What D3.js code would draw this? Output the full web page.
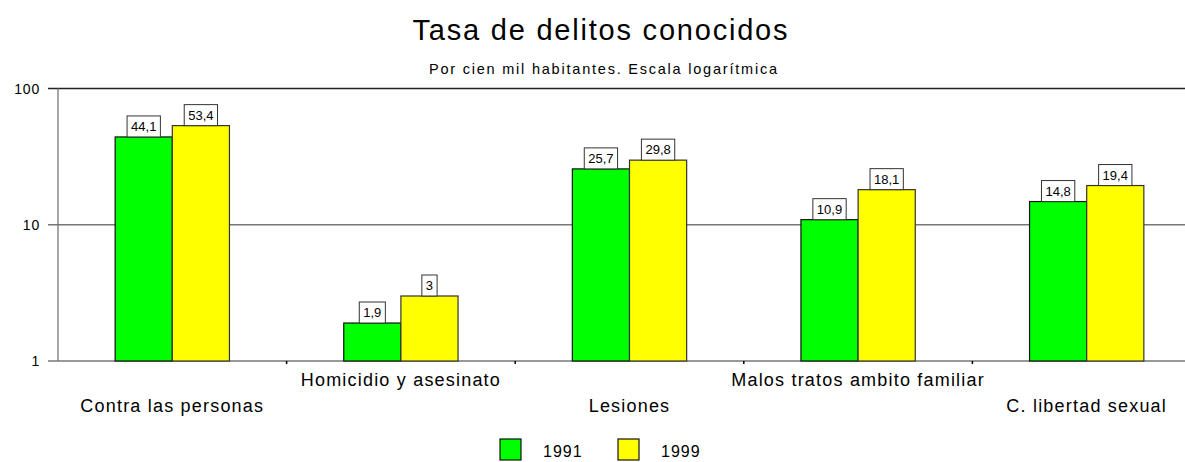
<!DOCTYPE html>
<html>
<head>
<meta charset="utf-8">
<script src="https://cdn.jsdelivr.net/npm/d3@7"></script>
<style>
  body { margin: 0; background: #fff; }
  svg { display: block; font-family: "Liberation Sans", Arial, sans-serif; }
</style>
</head>
<body>
<div id="vis"></div>
<script>
// data
const categories = ["Contra las personas", "Homicidio y asesinato", "Lesiones", "Malos tratos ambito familiar", "C. libertad sexual"];
const years = ["1991", "1999"];
const values1991 = [44.1, 1.9, 25.7, 10.9, 14.8];
const values1999 = [53.4, 3, 29.8, 18.1, 19.4];
const yTicks = [1, 10, 100];
const colors = ["#00ff00", "#ffff00"];

const width = 1185, height = 462;
const plotLeft = 58, bandRight = 1201, plotTop = 88.5, plotBottom = 361;

const svg = d3.select("#vis").append("svg")
  .attr("width", width)
  .attr("height", height);

const x = d3.scaleBand().domain(categories).range([plotLeft, bandRight]);
const xs = d3.scaleBand().domain(years).range([x.bandwidth() / 4, x.bandwidth() * 3 / 4]);
const y = d3.scaleLog().domain([1, 100]).range([plotBottom, plotTop]);

const rows = categories.map((c, i) => ({ cat: c, vals: [values1991[i], values1999[i]] }));

// title
svg.append("text")
  .attr("x", 600).attr("y", 40)
  .attr("text-anchor", "middle")
  .attr("font-size", 29)
  .attr("textLength", 375)
  .text("Tasa de delitos conocidos");

svg.append("text")
  .attr("x", 603).attr("y", 74)
  .attr("text-anchor", "middle")
  .attr("font-size", 14.5)
  .attr("textLength", 348)
  .text("Por cien mil habitantes. Escala logarítmica");

// gridlines
svg.selectAll(".grid")
  .data(yTicks)
  .enter().append("line")
  .attr("x1", plotLeft - 10).attr("x2", width)
  .attr("y1", d => y(d)).attr("y2", d => y(d))
  .attr("stroke", d => d === 100 ? "#222" : "#777")
  .attr("stroke-width", 1.3);

// y axis line
svg.append("line")
  .attr("x1", plotLeft).attr("x2", plotLeft)
  .attr("y1", plotTop).attr("y2", plotBottom)
  .attr("stroke", "#777")
  .attr("stroke-width", 1.3);

svg.selectAll(".ylab")
  .data(yTicks)
  .enter().append("text")
  .attr("x", 40).attr("y", d => y(d) + 5)
  .attr("text-anchor", "end")
  .attr("font-size", 14)
  .attr("letter-spacing", 0.8)
  .text(d => d);

// bars
const groups = svg.selectAll(".grp")
  .data(rows)
  .enter().append("g")
  .attr("transform", d => "translate(" + x(d.cat) + ",0)");

groups.selectAll("rect")
  .data(d => d.vals.map((v, j) => ({ v: v, yr: years[j], j: j })))
  .enter().append("rect")
  .attr("x", d => xs(d.yr))
  .attr("y", d => y(d.v))
  .attr("width", xs.bandwidth())
  .attr("height", d => plotBottom - y(d.v))
  .attr("fill", d => colors[d.j])
  .attr("stroke", d => d.j === 0 ? "#111" : "#333")
  .attr("stroke-width", 1.2);

// value labels
const fmt = v => String(v).replace(".", ",");
groups.selectAll(".lab")
  .data(d => d.vals.map((v, j) => ({ v: v, yr: years[j], j: j })))
  .enter().append("g")
  .each(function (d) {
    const g = d3.select(this);
    const cx = xs(d.yr) + xs.bandwidth() / 2;
    const t = g.append("text")
      .attr("x", cx).attr("y", y(d.v) - 6)
      .attr("text-anchor", "middle")
      .attr("font-size", 13)
      .text(fmt(d.v));
    const w = t.node().getComputedTextLength() + 8;
    g.insert("rect", "text")
      .attr("x", cx - w / 2).attr("y", y(d.v) - 21)
      .attr("width", w).attr("height", 21)
      .attr("fill", "#fff")
      .attr("stroke", "#333")
      .attr("stroke-width", 1);
  });

// category ticks
svg.selectAll(".ctick")
  .data(categories.slice(1))
  .enter().append("line")
  .attr("x1", d => x(d)).attr("x2", d => x(d))
  .attr("y1", plotBottom).attr("y2", plotBottom + 3)
  .attr("stroke", "#000")
  .attr("stroke-width", 1.5);

// category labels, staggered
svg.selectAll(".clab")
  .data(categories)
  .enter().append("text")
  .attr("x", d => x(d) + x.bandwidth() / 2)
  .attr("y", (d, i) => i % 2 === 0 ? 412 : 386)
  .attr("text-anchor", "middle")
  .attr("font-size", 18)
  .attr("letter-spacing", 1.2)
  .text(d => d);

// legend
const legend = svg.selectAll(".leg")
  .data(years)
  .enter().append("g")
  .attr("transform", (d, i) => "translate(" + (500 + i * 118) + ",439)");

legend.append("rect")
  .attr("width", 21).attr("height", 21)
  .attr("fill", (d, i) => colors[i])
  .attr("stroke", "#111")
  .attr("stroke-width", 1.2);

legend.append("text")
  .attr("x", 43).attr("y", 17.5)
  .attr("font-size", 16)
  .attr("letter-spacing", 1)
  .text(d => d);
</script>
</body>
</html>
